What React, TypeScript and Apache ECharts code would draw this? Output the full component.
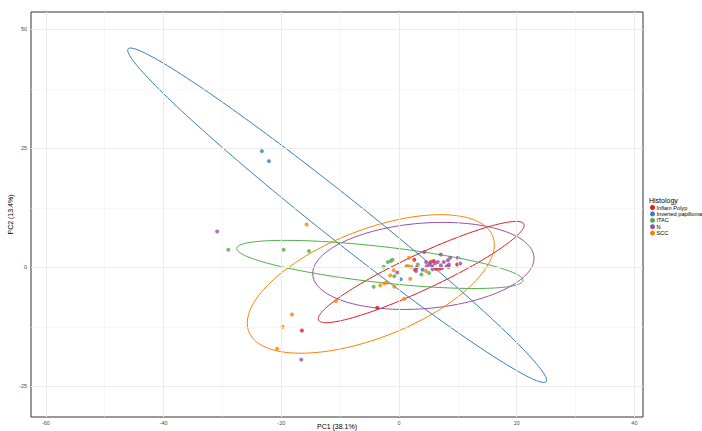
import React, { useEffect, useRef } from "react";
import * as echarts from "echarts";

// ---- data ----
const groups = ["Inflam Polyp", "Inverted papilloma", "ITAC", "N", "SCC"];
const colors = ["#E41A1C", "#377EB8", "#4DAF4A", "#984EA3", "#FF7F00"];

const inflamPolyp = [
  [2.6, 1.6], [3.0, -0.1], [5.4, 1.1], [5.9, 1.3], [6.3, -0.3], [6.9, -0.3],
  [8.4, 0.1], [9.9, 0.6], [-3.7, -8.5], [-16.5, -13.3],
];
const invertedPapilloma = [
  [-23.3, 24.4], [-22.1, 22.3], [0.3, -2.5], [4.0, -0.5],
];
const itac = [
  [-29.0, 3.7], [-19.6, 3.7], [-15.3, 3.4], [-1.9, 1.1], [-1.4, 1.3], [-1.1, 1.6],
  [-2.6, 0.1], [1.3, 0.2], [3.2, 0.6], [-0.8, -1.9], [3.8, -1.5], [5.1, -1.2], [-4.3, -4.1],
];
const normal = [
  [-30.9, 7.5], [-16.6, -19.4], [4.3, 3.2], [7.1, 2.7], [8.7, 2.0], [10.0, 2.0],
  [10.4, 0.8], [2.7, -0.5], [2.9, -0.8], [-0.3, -1.1], [4.6, 1.1], [5.1, 0.6],
  [5.6, 0.2], [6.1, 0.8], [6.6, 1.1], [7.1, 0.4], [7.6, 1.1], [8.1, 0.2], [8.3, 1.5],
  [4.7, 0.2], [5.7, -0.4], [7.3, -0.2], [8.5, 0.6],
];
const scc = [
  [-15.7, 9.0], [-10.7, -7.1], [-18.2, -9.9], [-19.8, -12.5], [-20.7, -17.1],
  [1.7, 2.0], [1.6, 0.2], [2.1, 0.1], [-0.9, -0.6], [-1.5, -1.7], [1.9, -2.4],
  [4.6, -0.8], [-2.1, -3.2], [-2.5, -3.4], [-3.2, -3.8], [-0.8, -4.1], [0.9, -6.6],
];
const groupPoints = [inflamPolyp, invertedPapilloma, itac, normal, scc];

// ellipse shape per group: [centerX, centerY, halfWidthX, conjugateSlope, halfHeightAtCenter]
const ellipseInflam = [3.77, -1.0, 17.48, 0.561, 4.1];
const ellipseInverted = [-10.5, 10.93, 35.6, -0.9737, 5.7];
const ellipseItac = [-3.25, 0.6, 24.33, -0.137, 3.8];
const ellipseN = [4.14, 0.29, 18.8, 0.0854, 9.0];
const ellipseScc = [-4.79, -3.5, 20.99, 0.392, 12.0];
const groupEllipses = [ellipseInflam, ellipseInverted, ellipseItac, ellipseN, ellipseScc];

const xTicks = [-60, -40, -20, 0, 20, 40];
const yTicks = [-25, 0, 25, 50];
const xMinor = [-50, -30, -10, 10, 30];
const yMinor = [-12.5, 12.5, 37.5];
const xRange = [-62.53, 41.46];
const yRange = [-31.45, 53.63];

const FONT = "'Liberation Sans', Arial, Helvetica, sans-serif";

export default function App() {
  const ref = useRef<HTMLDivElement>(null);
  useEffect(() => {
    if (!ref.current) return;
    const chart = echarts.init(ref.current, undefined, { renderer: "svg" });

    const gridSeries: any = {
      type: "line",
      name: "grid",
      data: [],
      silent: true,
      z: 0,
      markLine: {
        silent: true,
        symbol: ["none", "none"],
        label: { show: false },
        animation: false,
        data: [
          ...xMinor.map((v) => ({ xAxis: v, lineStyle: { color: "#F2F2F2", width: 0.6, type: "solid" } })),
          ...yMinor.map((v) => ({ yAxis: v, lineStyle: { color: "#F2F2F2", width: 0.6, type: "solid" } })),
          ...xTicks.map((v) => ({ xAxis: v, lineStyle: { color: "#EBEBEB", width: 1, type: "solid" } })),
          ...yTicks.map((v) => ({ yAxis: v, lineStyle: { color: "#EBEBEB", width: 1, type: "solid" } })),
        ],
      },
    };

    const ellipseSeries = groups.map((g, i) => ({
      type: "custom",
      name: g,
      z: 2,
      silent: true,
      data: [groupEllipses[i]],
      encode: { x: 0, y: 1 },
      renderItem: (params: any, api: any) => {
        const cx = api.value(0), cy = api.value(1), w = api.value(2), m = api.value(3), h = api.value(4);
        const pts: number[][] = [];
        const n = 180;
        for (let k = 0; k <= n; k++) {
          const t = (k / n) * Math.PI * 2;
          pts.push(api.coord([cx + w * Math.cos(t), cy + w * m * Math.cos(t) + h * Math.sin(t)]));
        }
        return {
          type: "polyline",
          shape: { points: pts },
          style: { stroke: colors[i], fill: "none", lineWidth: 1 },
        };
      },
    }));

    const scatterSeries = groups.map((g, i) => ({
      type: "scatter",
      name: g,
      z: 3,
      symbol: "circle",
      symbolSize: 4,
      itemStyle: { color: colors[i] },
      data: groupPoints[i],
    }));

    chart.setOption({
      animation: false,
      textStyle: { fontFamily: FONT },
      grid: {
        left: 31, top: 12, width: 612, height: 405,
        outerBoundsMode: "none",
        containLabel: false,
        show: true, borderColor: "#333333", borderWidth: 1, backgroundColor: "#FFFFFF",
      },
      xAxis: {
        type: "value",
        min: xRange[0], max: xRange[1],
        splitLine: { show: false },
        axisLine: { show: true, lineStyle: { color: "#333333", width: 1 } },
        axisTick: { show: true, customValues: xTicks, length: 2, lineStyle: { color: "#333333" } },
        axisLabel: { customValues: xTicks, fontSize: 5.5, color: "#4D4D4D", margin: 3, fontFamily: FONT },
        name: "PC1 (38.1%)",
        nameLocation: "middle",
        nameGap: 6,
        nameMoveOverlap: false,
        nameTextStyle: { fontSize: 7, lineHeight: 7, color: "#000000", fontFamily: FONT },
      },
      yAxis: {
        type: "value",
        min: yRange[0], max: yRange[1],
        splitLine: { show: false },
        axisLine: { show: true, lineStyle: { color: "#333333", width: 1 } },
        axisTick: { show: true, customValues: yTicks, length: 2, lineStyle: { color: "#333333" } },
        axisLabel: { customValues: yTicks, fontSize: 5.5, color: "#4D4D4D", margin: 4, fontFamily: FONT },
        name: "PC2 (13.4%)",
        nameLocation: "middle",
        nameGap: 17,
        nameMoveOverlap: false,
        nameRotate: 90,
        nameTextStyle: { fontSize: 7, lineHeight: 7, color: "#000000", fontFamily: FONT },
      },
      legend: {
        orient: "vertical",
        left: 650,
        top: 204.5,
        padding: 0,
        itemWidth: 5,
        itemHeight: 5,
        itemGap: 0.4,
        icon: "circle",
        selectedMode: false,
        data: groups.map((g, i) => ({ name: g, itemStyle: { color: colors[i] } })),
        textStyle: {
          fontSize: 5.6, lineHeight: 5, color: "#000000", padding: [0, 0, 0, -3.5],
          fontFamily: FONT, width: 60, overflow: "none",
        },
      },
      graphic: [
        {
          type: "text",
          left: 649,
          top: 197,
          style: { text: "Histology", fontSize: 7, lineHeight: 7, fill: "#000000", fontFamily: FONT },
        },
      ],
      series: [gridSeries, ...ellipseSeries, ...scatterSeries],
    });

    return () => chart.dispose();
  }, []);

  return (
    <div
      ref={ref}
      style={{ position: "fixed", left: 0, top: 0, width: 702, height: 431, background: "#FFFFFF" }}
    />
  );
}
